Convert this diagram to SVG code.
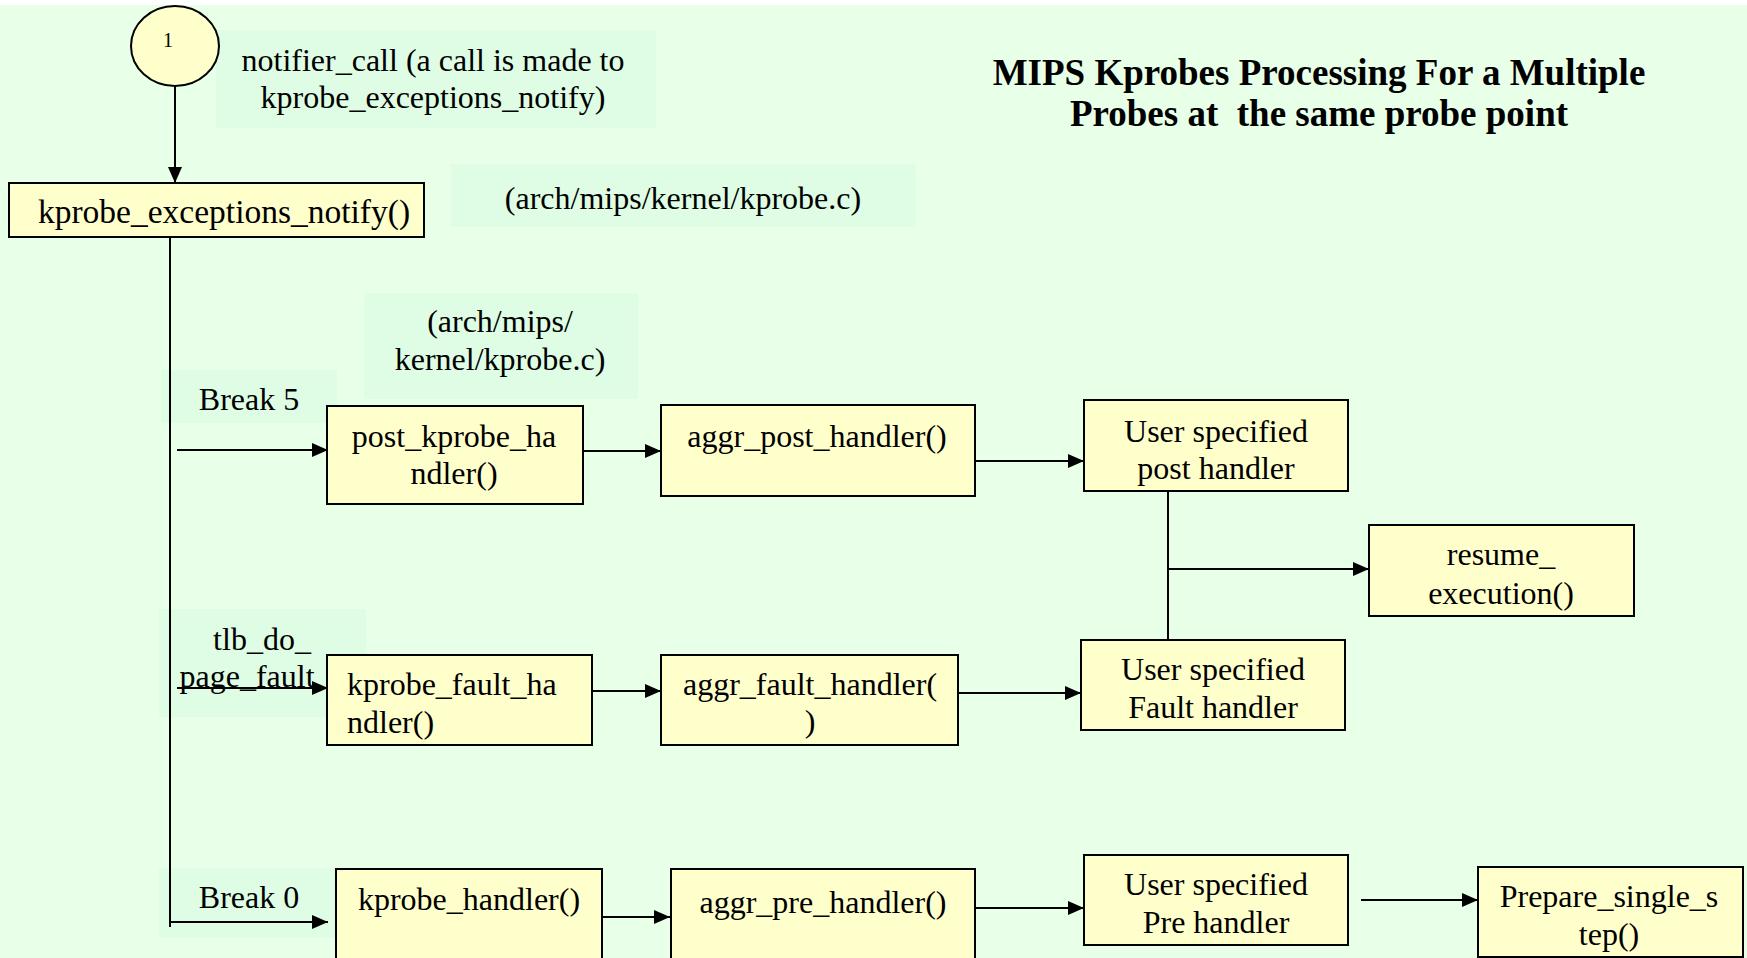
<svg xmlns="http://www.w3.org/2000/svg" width="1747" height="958" viewBox="0 0 1747 958">
<defs>
<style>
.bg{fill:#E8FFE8}
.lbl{fill:#DEFDE4}
.node{fill:#FFFFCC;stroke:#000;stroke-width:2}
.t{font-family:"Liberation Serif","Times New Roman",serif;font-size:32px;fill:#000}
.c{text-anchor:middle}
.title{font-family:"Liberation Serif","Times New Roman",serif;font-size:37px;font-weight:bold;text-anchor:middle;fill:#000;white-space:pre}
.ln{stroke:#000;stroke-width:2;fill:none}
.ar{stroke:#000;stroke-width:2;fill:none;marker-end:url(#ah)}
</style>
<marker id="ah" markerUnits="userSpaceOnUse" markerWidth="18" markerHeight="16" refX="16" refY="7" orient="auto">
<path d="M0,0 L16,7 L0,14 z" fill="#000"/>
</marker>
</defs>
<rect x="0" y="0" width="1747" height="958" fill="#fff"/>
<rect class="bg" x="0" y="5" width="1747" height="953"/>

<g id="title">
<text class="title" x="1319" y="85">MIPS Kprobes Processing For a Multiple</text>
<text class="title" x="1319" y="126">Probes at  the same probe point</text>
</g>

<g id="label-notifier">
<rect class="lbl" x="216" y="30" width="440" height="98"/>
<text class="t c" x="433" y="71">notifier_call (a call is made to</text>
<text class="t c" x="433" y="108">kprobe_exceptions_notify)</text>
</g>
<g id="label-arch1">
<rect class="lbl" x="451" y="164" width="465" height="63"/>
<text class="t c" x="683" y="209">(arch/mips/kernel/kprobe.c)</text>
</g>
<g id="label-arch2">
<rect class="lbl" x="364" y="293" width="274" height="106"/>
<text class="t c" x="500" y="332">(arch/mips/</text>
<text class="t c" x="500" y="370">kernel/kprobe.c)</text>
</g>
<g id="label-break5">
<rect class="lbl" x="161" y="370" width="176" height="53"/>
<text class="t c" x="249" y="410">Break 5</text>
</g>
<g id="label-tlb">
<rect class="lbl" x="159" y="609" width="207" height="108"/>
<text class="t c" x="262" y="650">tlb_do_</text>
<text class="t c" x="247" y="687">page_fault</text>
</g>
<g id="label-break0">
<rect class="lbl" x="159" y="868" width="176" height="70"/>
<text class="t c" x="249" y="908">Break 0</text>
</g>

<g id="connectors">
<path class="ar" d="M175,86 L175,183"/>
<path class="ln" d="M170,237 L170,927"/>
<path class="ar" d="M177,450 L328,450"/>
<path class="ar" d="M583,451 L661,451"/>
<path class="ar" d="M973,461 L1084,461"/>
<path class="ln" d="M1168,491 L1168,640"/>
<path class="ar" d="M1168,569 L1369,569"/>
<path class="ar" d="M177,688 L328,688"/>
<path class="ar" d="M592,691 L661,691"/>
<path class="ar" d="M958,693 L1081,693"/>
<path class="ar" d="M170,922 L328,922"/>
<path class="ar" d="M602,917 L670,917"/>
<path class="ar" d="M973,908 L1084,908"/>
<path class="ar" d="M1361,900 L1478,900"/>
</g>

<g id="n-circle">
<ellipse class="node" cx="175" cy="46" rx="44" ry="40"/>
<text x="168" y="47" font-family="Liberation Serif, serif" font-size="20" text-anchor="middle">1</text>
</g>
<g id="n-notify">
<rect class="node" x="9" y="183" width="415" height="54"/>
<text class="t c" x="224" y="223" style="font-size:33.5px">kprobe_exceptions_notify()</text>
</g>
<g id="n-post-kprobe">
<rect class="node" x="327" y="406" width="256" height="98"/>
<text class="t c" x="454" y="447">post_kprobe_ha</text>
<text class="t c" x="454" y="484">ndler()</text>
</g>
<g id="n-aggr-post">
<rect class="node" x="661" y="405" width="314" height="91"/>
<text class="t c" x="817" y="447">aggr_post_handler()</text>
</g>
<g id="n-user-post">
<rect class="node" x="1084" y="400" width="264" height="91"/>
<text class="t c" x="1216" y="442">User specified</text>
<text class="t c" x="1216" y="479">post handler</text>
</g>
<g id="n-resume">
<rect class="node" x="1369" y="525" width="265" height="91"/>
<text class="t c" x="1501" y="565">resume_</text>
<text class="t c" x="1501" y="604">execution()</text>
</g>
<g id="n-kprobe-fault">
<rect class="node" x="327" y="655" width="265" height="90"/>
<text class="t" x="347" y="695">kprobe_fault_ha</text>
<text class="t" x="347" y="733">ndler()</text>
</g>
<g id="n-aggr-fault">
<rect class="node" x="661" y="655" width="297" height="90"/>
<text class="t c" x="810" y="695">aggr_fault_handler(</text>
<text class="t c" x="810" y="732">)</text>
</g>
<g id="n-user-fault">
<rect class="node" x="1081" y="640" width="264" height="90"/>
<text class="t c" x="1213" y="680">User specified</text>
<text class="t c" x="1213" y="718">Fault handler</text>
</g>
<g id="n-kprobe-handler">
<rect class="node" x="336" y="869" width="266" height="100"/>
<text class="t c" x="469" y="910">kprobe_handler()</text>
</g>
<g id="n-aggr-pre">
<rect class="node" x="671" y="869" width="304" height="100"/>
<text class="t c" x="823" y="913">aggr_pre_handler()</text>
</g>
<g id="n-user-pre">
<rect class="node" x="1084" y="855" width="264" height="90"/>
<text class="t c" x="1216" y="895">User specified</text>
<text class="t c" x="1216" y="933">Pre handler</text>
</g>
<g id="n-prepare">
<rect class="node" x="1478" y="867" width="265" height="90"/>
<text class="t c" x="1609" y="907">Prepare_single_s</text>
<text class="t c" x="1609" y="945">tep()</text>
</g>
</svg>
